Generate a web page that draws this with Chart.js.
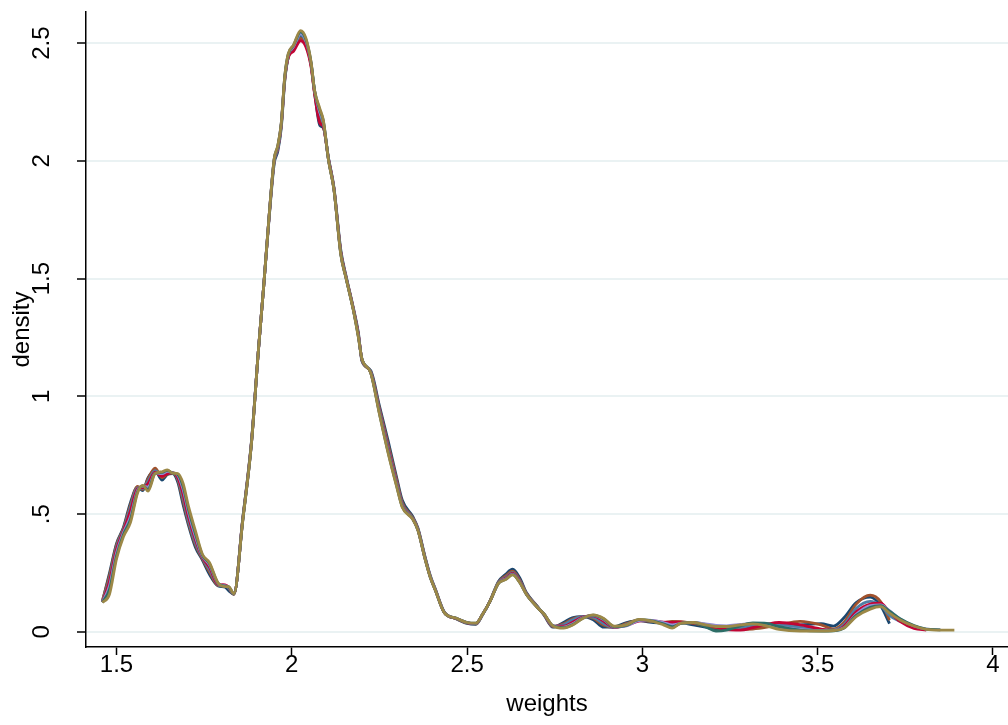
<!DOCTYPE html>
<html>
<head>
<meta charset="utf-8">
<title>density of weights</title>
<script src="https://cdn.jsdelivr.net/npm/chart.js@4.4.1/dist/chart.umd.min.js"></script>
<style>
  html, body { margin: 0; padding: 0; background: #fff; }
  #wrap { width: 1008px; height: 725px; position: relative; }
</style>
</head>
<body>
<div id="wrap"><canvas id="densityChart"></canvas></div>
<script>
// ── DATA ──────────────────────────────────────────────────────
// common evaluation grid (weights)
const weightGrid = [
  1.46, 1.48, 1.50, 1.52, 1.54, 1.56, 1.575, 1.59, 1.61, 1.63,
  1.645, 1.66, 1.675, 1.69, 1.705, 1.725, 1.745, 1.765, 1.79, 1.81,
  1.82, 1.835, 1.86, 1.885, 1.905, 1.92, 1.935, 1.95, 1.96, 1.97,
  1.98, 1.99, 2.005, 2.025, 2.04, 2.055, 2.065, 2.08, 2.09, 2.105,
  2.12, 2.14, 2.155, 2.175, 2.19, 2.20, 2.225, 2.25, 2.275, 2.30,
  2.315, 2.345, 2.36, 2.38, 2.395, 2.41, 2.435, 2.47, 2.50, 2.525,
  2.545, 2.565, 2.59, 2.61, 2.63, 2.65, 2.67, 2.70, 2.72, 2.745,
  2.775, 2.80, 2.83, 2.86, 2.89, 2.92, 2.955, 2.99, 3.02, 3.06,
  3.085, 3.11, 3.145, 3.18, 3.21, 3.24, 3.28, 3.315, 3.355, 3.39,
  3.45, 3.51, 3.545, 3.575, 3.61, 3.65, 3.68, 3.705, 3.735, 3.775,
  3.81, 3.85, 3.89
];

const densNavy = [
  0.130, 0.250, 0.375, 0.445, 0.550, 0.615, 0.600, 0.655, 0.685, 0.645,
  0.668, 0.672, 0.635, 0.540, 0.455, 0.360, 0.305, 0.245, 0.195, 0.190,
  0.175, 0.160, 0.480, 0.810, 1.200, 1.470, 1.750, 1.990, 2.040, 2.140,
  2.340, 2.440, 2.475, 2.530, 2.500, 2.410, 2.290, 2.150, 2.140, 2.010,
  1.890, 1.620, 1.510, 1.380, 1.270, 1.150, 1.110, 0.960, 0.810, 0.650,
  0.560, 0.490, 0.440, 0.320, 0.240, 0.180, 0.085, 0.055, 0.036, 0.032,
  0.075, 0.130, 0.215, 0.245, 0.266, 0.230, 0.165, 0.110, 0.070, 0.020,
  0.040, 0.060, 0.065, 0.052, 0.020, 0.022, 0.040, 0.048, 0.042, 0.038,
  0.042, 0.040, 0.030, 0.020, 0.012, 0.010, 0.018, 0.025, 0.030, 0.028,
  0.030, 0.035, 0.025, 0.060, 0.125, 0.148, 0.110, 0.035, null, null,
  null, null, null
];

const densSienna = [
  0.135, 0.240, 0.370, 0.440, 0.540, 0.618, 0.605, 0.650, 0.695, 0.655,
  0.670, 0.675, 0.645, 0.555, 0.465, 0.370, 0.310, 0.255, 0.197, 0.198,
  0.185, 0.160, 0.478, 0.808, 1.200, 1.470, 1.755, 2.000, 2.050, 2.150,
  2.345, 2.440, 2.470, 2.520, 2.495, 2.405, 2.290, 2.180, 2.150, 2.005,
  1.885, 1.610, 1.505, 1.375, 1.262, 1.155, 1.105, 0.950, 0.795, 0.640,
  0.550, 0.485, 0.436, 0.316, 0.236, 0.178, 0.083, 0.056, 0.038, 0.034,
  0.076, 0.130, 0.212, 0.238, 0.258, 0.222, 0.162, 0.108, 0.072, 0.022,
  0.035, 0.055, 0.066, 0.058, 0.028, 0.018, 0.036, 0.050, 0.045, 0.040,
  0.045, 0.044, 0.036, 0.026, 0.018, 0.012, 0.010, 0.012, 0.020, 0.030,
  0.045, 0.030, 0.012, 0.040, 0.118, 0.156, 0.128, 0.050, null, null,
  null, null, null
];

const densBlue = [
  0.128, 0.225, 0.360, 0.435, 0.530, 0.612, 0.608, 0.640, 0.685, 0.665,
  0.675, 0.676, 0.650, 0.570, 0.475, 0.380, 0.315, 0.265, 0.200, 0.196,
  0.188, 0.162, 0.476, 0.805, 1.200, 1.470, 1.758, 2.000, 2.050, 2.152,
  2.350, 2.445, 2.480, 2.535, 2.505, 2.412, 2.295, 2.195, 2.160, 2.003,
  1.883, 1.605, 1.503, 1.373, 1.258, 1.158, 1.103, 0.942, 0.783, 0.630,
  0.542, 0.482, 0.434, 0.314, 0.235, 0.177, 0.083, 0.057, 0.039, 0.035,
  0.076, 0.129, 0.210, 0.232, 0.252, 0.218, 0.160, 0.107, 0.074, 0.024,
  0.030, 0.050, 0.066, 0.062, 0.035, 0.018, 0.032, 0.050, 0.047, 0.036,
  0.032, 0.040, 0.040, 0.032, 0.022, 0.015, 0.018, 0.028, 0.034, 0.032,
  0.020, 0.010, 0.008, 0.030, 0.100, 0.130, 0.112, 0.070, 0.045, 0.020,
  0.010, null, null
];

const densRed = [
  0.126, 0.215, 0.350, 0.430, 0.515, 0.608, 0.612, 0.630, 0.678, 0.660,
  0.672, 0.675, 0.655, 0.585, 0.490, 0.392, 0.318, 0.275, 0.202, 0.200,
  0.190, 0.162, 0.474, 0.803, 1.200, 1.470, 1.759, 2.005, 2.055, 2.155,
  2.350, 2.440, 2.465, 2.510, 2.485, 2.400, 2.285, 2.160, 2.145, 2.005,
  1.885, 1.608, 1.505, 1.375, 1.260, 1.158, 1.103, 0.938, 0.776, 0.625,
  0.538, 0.481, 0.433, 0.313, 0.234, 0.176, 0.082, 0.057, 0.039, 0.036,
  0.077, 0.129, 0.209, 0.228, 0.248, 0.215, 0.159, 0.106, 0.074, 0.025,
  0.024, 0.040, 0.063, 0.068, 0.045, 0.020, 0.028, 0.046, 0.048, 0.042,
  0.040, 0.042, 0.038, 0.030, 0.020, 0.010, 0.008, 0.018, 0.032, 0.040,
  0.030, 0.012, 0.006, 0.024, 0.085, 0.118, 0.122, 0.085, 0.045, 0.015,
  0.008, null, null
];

const densLavender = [
  0.126, 0.195, 0.335, 0.422, 0.490, 0.600, 0.618, 0.615, 0.674, 0.672,
  0.682, 0.675, 0.665, 0.605, 0.510, 0.405, 0.322, 0.285, 0.205, 0.196,
  0.190, 0.162, 0.472, 0.802, 1.200, 1.470, 1.760, 2.008, 2.060, 2.158,
  2.355, 2.450, 2.485, 2.540, 2.510, 2.415, 2.298, 2.205, 2.165, 2.002,
  1.882, 1.603, 1.502, 1.372, 1.255, 1.160, 1.102, 0.932, 0.768, 0.620,
  0.535, 0.480, 0.432, 0.312, 0.233, 0.176, 0.082, 0.058, 0.040, 0.036,
  0.077, 0.129, 0.208, 0.225, 0.245, 0.212, 0.158, 0.106, 0.075, 0.026,
  0.020, 0.034, 0.060, 0.070, 0.052, 0.022, 0.026, 0.048, 0.050, 0.040,
  0.030, 0.036, 0.040, 0.034, 0.028, 0.026, 0.032, 0.036, 0.030, 0.020,
  0.010, 0.006, 0.006, 0.018, 0.075, 0.112, 0.115, 0.090, 0.055, 0.025,
  0.012, 0.009, null
];

const densEmerald = [
  0.125, 0.180, 0.322, 0.414, 0.478, 0.595, 0.620, 0.605, 0.673, 0.677,
  0.686, 0.674, 0.668, 0.618, 0.522, 0.418, 0.326, 0.290, 0.206, 0.194,
  0.191, 0.162, 0.471, 0.801, 1.200, 1.470, 1.760, 2.009, 2.062, 2.159,
  2.358, 2.453, 2.490, 2.548, 2.516, 2.418, 2.299, 2.215, 2.170, 2.001,
  1.881, 1.602, 1.501, 1.371, 1.252, 1.160, 1.101, 0.928, 0.762, 0.615,
  0.532, 0.479, 0.431, 0.311, 0.232, 0.175, 0.082, 0.058, 0.040, 0.037,
  0.077, 0.129, 0.207, 0.223, 0.243, 0.211, 0.158, 0.105, 0.075, 0.026,
  0.018, 0.030, 0.058, 0.071, 0.055, 0.023, 0.028, 0.052, 0.049, 0.034,
  0.022, 0.036, 0.040, 0.022, 0.004, 0.008, 0.026, 0.038, 0.036, 0.022,
  0.008, 0.004, 0.005, 0.016, 0.070, 0.105, 0.112, 0.088, 0.056, 0.027,
  0.012, 0.009, null
];

const densKhaki = [
  0.125, 0.160, 0.310, 0.405, 0.465, 0.590, 0.622, 0.598, 0.672, 0.680,
  0.688, 0.674, 0.672, 0.630, 0.535, 0.430, 0.330, 0.295, 0.207, 0.192,
  0.192, 0.162, 0.470, 0.800, 1.200, 1.470, 1.760, 2.010, 2.065, 2.160,
  2.360, 2.455, 2.492, 2.553, 2.522, 2.420, 2.300, 2.222, 2.172, 2.000,
  1.880, 1.600, 1.500, 1.370, 1.250, 1.160, 1.100, 0.925, 0.758, 0.612,
  0.530, 0.478, 0.430, 0.310, 0.232, 0.175, 0.082, 0.058, 0.040, 0.037,
  0.077, 0.129, 0.207, 0.222, 0.242, 0.210, 0.158, 0.105, 0.075, 0.026,
  0.016, 0.028, 0.057, 0.072, 0.057, 0.024, 0.030, 0.053, 0.048, 0.030,
  0.016, 0.037, 0.040, 0.030, 0.023, 0.023, 0.030, 0.034, 0.025, 0.011,
  0.004, 0.004, 0.006, 0.016, 0.065, 0.097, 0.107, 0.080, 0.051, 0.025,
  0.011, 0.008, 0.008
];

// drawn bottom → top
const seriesValues = [densNavy, densSienna, densBlue, densRed, densLavender, densEmerald, densKhaki];
const seriesColors = ['#1a476f', '#a0522d', '#4f7fa6', '#c10534', '#938dd2', '#2d6d66', '#9c8847'];

const xTicks = [1.5, 2, 2.5, 3, 3.5, 4];
const xTickLabels = ['1.5', '2', '2.5', '3', '3.5', '4'];
const yTicks = [0, 0.5, 1, 1.5, 2, 2.5];
const yTickLabels = ['0', '.5', '1', '1.5', '2', '2.5'];

const FONT = "'Liberation Sans', Arial, Helvetica, sans-serif";
const FONT_SIZE = 24;

// ── ROTATED Y TICK LABELS (Stata style) ───────────────────────
const yLabelPlugin = {
  id: 'yLabels',
  afterDraw(chart) {
    const ctx = chart.ctx;
    const y = chart.scales.y;
    ctx.save();
    ctx.fillStyle = '#000';
    ctx.font = FONT_SIZE + 'px ' + FONT;
    ctx.textAlign = 'center';
    ctx.textBaseline = 'middle';
    yTicks.forEach((v, i) => {
      ctx.save();
      ctx.translate(42, y.getPixelForValue(v));
      ctx.rotate(-Math.PI / 2);
      ctx.fillText(yTickLabels[i], 0, 0);
      ctx.restore();
    });
    ctx.restore();
  }
};

// ── CHART ─────────────────────────────────────────────────────
const ctx = document.getElementById('densityChart').getContext('2d');
new Chart(ctx, {
  type: 'line',
  data: {
    datasets: seriesValues.map((vals, i) => ({
      label: 'series ' + (i + 1),
      data: weightGrid.map((w, j) => ({ x: w, y: vals[j] })),
      borderColor: seriesColors[i],
      borderWidth: 2.8,
      pointRadius: 0,
      fill: false,
      tension: 0.3,
      cubicInterpolationMode: 'monotone',
      spanGaps: false,
      order: seriesValues.length - i,
    })),
  },
  options: {
    responsive: true,
    maintainAspectRatio: false,
    animation: false,
    layout: { padding: { top: 12, left: 0, right: 0, bottom: 0 } },
    plugins: { legend: { display: false }, tooltip: { enabled: false } },
    scales: {
      x: {
        type: 'linear',
        min: 1.413, max: 4.043,
        afterBuildTicks: s => { s.ticks = xTicks.map(v => ({ value: v })); },
        afterFit: s => { s.height = 78; },
        grid: { drawOnChartArea: false, drawTicks: true, tickLength: 8, tickColor: '#000', tickWidth: 1.5 },
        border: { color: '#000', width: 1.5 },
        ticks: {
          color: '#000', padding: -4, maxRotation: 0, autoSkip: false,
          font: { size: FONT_SIZE, family: FONT },
          callback: (v) => xTickLabels[xTicks.indexOf(v)] ?? '',
        },
        title: { display: true, text: 'weights', color: '#000', font: { size: FONT_SIZE, family: FONT }, padding: { top: 0, bottom: 6 } },
      },
      y: {
        type: 'linear',
        min: -0.064, max: 2.632,
        afterBuildTicks: s => { s.ticks = yTicks.map(v => ({ value: v })); },
        afterFit: s => { s.width = 86; },
        grid: { color: '#eaf2f3', lineWidth: 2, drawTicks: true, tickLength: 9, tickColor: '#000', tickWidth: 1.5 },
        border: { color: '#000', width: 1.5 },
        ticks: { display: false },
        title: { display: true, text: 'density', color: '#000', font: { size: FONT_SIZE, family: FONT }, padding: { top: 8, bottom: 0 } },
      },
    },
  },
  plugins: [yLabelPlugin],
});
</script>
</body>
</html>
